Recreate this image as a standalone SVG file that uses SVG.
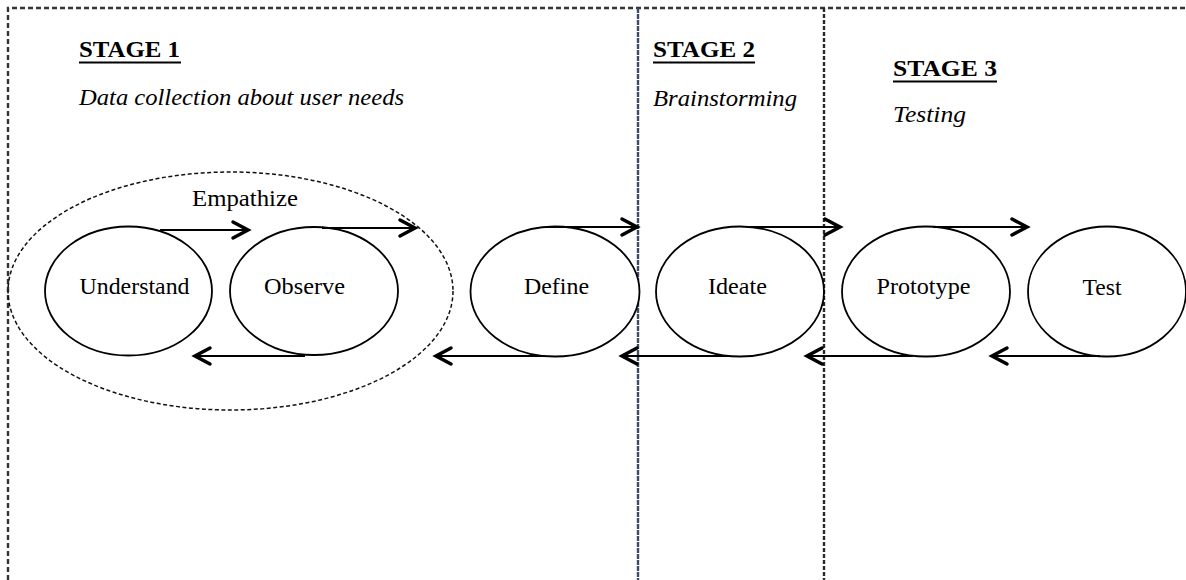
<svg xmlns="http://www.w3.org/2000/svg" width="1186" height="580" viewBox="0 0 1186 580">
  <style>
    .frame { fill: none; stroke: #333; stroke-width: 2.4; stroke-dasharray: 5 3; }
    .divider-a { fill: none; stroke: #3f4a66; stroke-width: 2.4; stroke-dasharray: 5 1; }
    .divider-b { fill: none; stroke: #2a2a2a; stroke-width: 2.4; stroke-dasharray: 4 2; }
    .node { fill: #fff; stroke: #000; stroke-width: 1.8; }
    .group { fill: none; stroke: #111; stroke-width: 1.5; stroke-dasharray: 4 2.5; }
    .label { font-family: "Liberation Serif", "Times New Roman", serif; font-size: 23px; fill: #000; text-anchor: middle; }
    .stage { font-family: "Liberation Serif", "Times New Roman", serif; font-size: 22.5px; font-weight: bold; fill: #000; }
    .sub { font-family: "Liberation Serif", "Times New Roman", serif; font-size: 23px; font-style: italic; fill: #000; }
    .rule { stroke: #000; stroke-width: 2; }
    .arrow { fill: none; stroke: #000; stroke-width: 2; marker-end: url(#chevron); }
  </style>
  <defs>
    <marker id="chevron" markerUnits="userSpaceOnUse" viewBox="-20 -11 24 22" markerWidth="24" markerHeight="22" refX="0" refY="0" orient="auto" overflow="visible">
      <path d="M-15,-8 L0,0 L-15,8" fill="none" stroke="#000" stroke-width="3.5" stroke-linejoin="miter" stroke-linecap="round"/>
    </marker>
  </defs>

  <rect width="1186" height="580" fill="#fff"/>

  <!-- page frame and stage dividers -->
  <g id="frame">
    <path class="frame" d="M8,580 V8 H1186"/>
    <line class="divider-a" x1="638" y1="8" x2="638" y2="580"/>
    <line class="divider-b" x1="824" y1="8" x2="824" y2="580"/>
  </g>

  <!-- stage headings -->
  <g id="stage1">
    <text class="stage" x="79" y="57" textLength="101" lengthAdjust="spacingAndGlyphs">STAGE 1</text>
    <line class="rule" x1="79" y1="62.5" x2="181" y2="62.5"/>
    <text class="sub" x="79" y="105" textLength="325" lengthAdjust="spacingAndGlyphs">Data collection about user needs</text>
  </g>
  <g id="stage2">
    <text class="stage" x="653" y="57" textLength="102" lengthAdjust="spacingAndGlyphs">STAGE 2</text>
    <line class="rule" x1="653" y1="62.5" x2="755" y2="62.5"/>
    <text class="sub" x="653" y="106" textLength="144" lengthAdjust="spacingAndGlyphs">Brainstorming</text>
  </g>
  <g id="stage3">
    <text class="stage" x="893" y="76" textLength="104" lengthAdjust="spacingAndGlyphs">STAGE 3</text>
    <line class="rule" x1="893" y1="81.5" x2="997" y2="81.5"/>
    <text class="sub" x="893" y="122" textLength="73" lengthAdjust="spacingAndGlyphs">Testing</text>
  </g>

  <!-- empathize grouping -->
  <g id="empathize">
    <ellipse class="group" cx="230.5" cy="291" rx="222.5" ry="119"/>
    <text class="label" x="245" y="206" textLength="106" lengthAdjust="spacingAndGlyphs">Empathize</text>
  </g>

  <!-- process steps -->
  <g id="understand">
    <ellipse class="node" cx="128.5" cy="291" rx="83.5" ry="64.5"/>
    <text class="label" x="134.5" y="293.5" textLength="110" lengthAdjust="spacingAndGlyphs">Understand</text>
  </g>
  <g id="observe">
    <ellipse class="node" cx="314" cy="291" rx="84" ry="64"/>
    <text class="label" x="304.5" y="293.5" textLength="81" lengthAdjust="spacingAndGlyphs">Observe</text>
  </g>
  <g id="define">
    <ellipse class="node" cx="555" cy="291.5" rx="84.5" ry="65"/>
    <text class="label" x="556.5" y="293.5" textLength="65" lengthAdjust="spacingAndGlyphs">Define</text>
  </g>
  <g id="ideate">
    <ellipse class="node" cx="740" cy="291.5" rx="84" ry="65"/>
    <text class="label" x="737.5" y="293.5" textLength="59" lengthAdjust="spacingAndGlyphs">Ideate</text>
  </g>
  <g id="prototype">
    <ellipse class="node" cx="926" cy="291.5" rx="84" ry="65"/>
    <text class="label" x="923.5" y="293.5" textLength="94" lengthAdjust="spacingAndGlyphs">Prototype</text>
  </g>
  <g id="test">
    <ellipse class="node" cx="1107" cy="291.5" rx="79" ry="65"/>
    <text class="label" x="1102" y="294.5" textLength="39" lengthAdjust="spacingAndGlyphs">Test</text>
  </g>

  <!-- forward and feedback connectors -->
  <g id="connectors">
    <path class="arrow" d="M160,230 H248"/>
    <path class="arrow" d="M322,228 H415"/>
    <path class="arrow" d="M547,227 H637"/>
    <path class="arrow" d="M750,227 H840"/>
    <path class="arrow" d="M933,227 H1027"/>
    <path class="arrow" d="M305,356 H195"/>
    <path class="arrow" d="M545,356 H436"/>
    <path class="arrow" d="M730,356 H622"/>
    <path class="arrow" d="M913,356 H807"/>
    <path class="arrow" d="M1100,356 H992"/>
  </g>
</svg>
